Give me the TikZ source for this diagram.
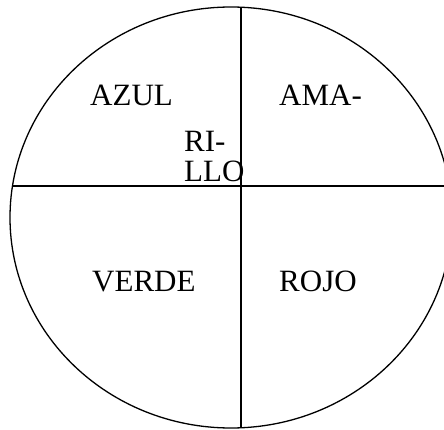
\documentclass[tikz,border=0pt]{standalone}
\usepackage{fontspec}
\setmainfont{Liberation Serif}
\usetikzlibrary{positioning}
\tikzset{
  rim/.style={draw=black, line width=1.3pt},
  colorname/.style={anchor=base west, inner sep=0pt, font=\fontsize{31}{30}\selectfont}
}

\begin{document}
\begin{tikzpicture}[x=1pt,y=-1pt]
  \useasboundingbox (0,0) rectangle (444,430);
  \clip (0,0) rectangle (444,430);

  % the wheel and its two cuts
  \draw[rim] (231,217.5) ellipse [x radius=221, y radius=210.5];
  \coordinate (west) at (12.5,186);
  \coordinate (east) at (444,186);
  \coordinate (top) at (241,7.2);
  \coordinate (bottom) at (241,427.8);
  \draw[rim] (west) -- (east);
  \draw[rim] (top) -- (bottom);

  \node[colorname] (azul) at (90,106) {AZUL};
  \node[colorname] (ama) at (279,106) {AMA-};
  \node[colorname] (ri) at (184,152) {RI-};
  \node[colorname] (llo) at (184,182) {LLO};
  \node[colorname] (verde) at (92,291) {VERDE};
  \node[colorname] (rojo) at (279,291) {ROJO};
\end{tikzpicture}
\end{document}
